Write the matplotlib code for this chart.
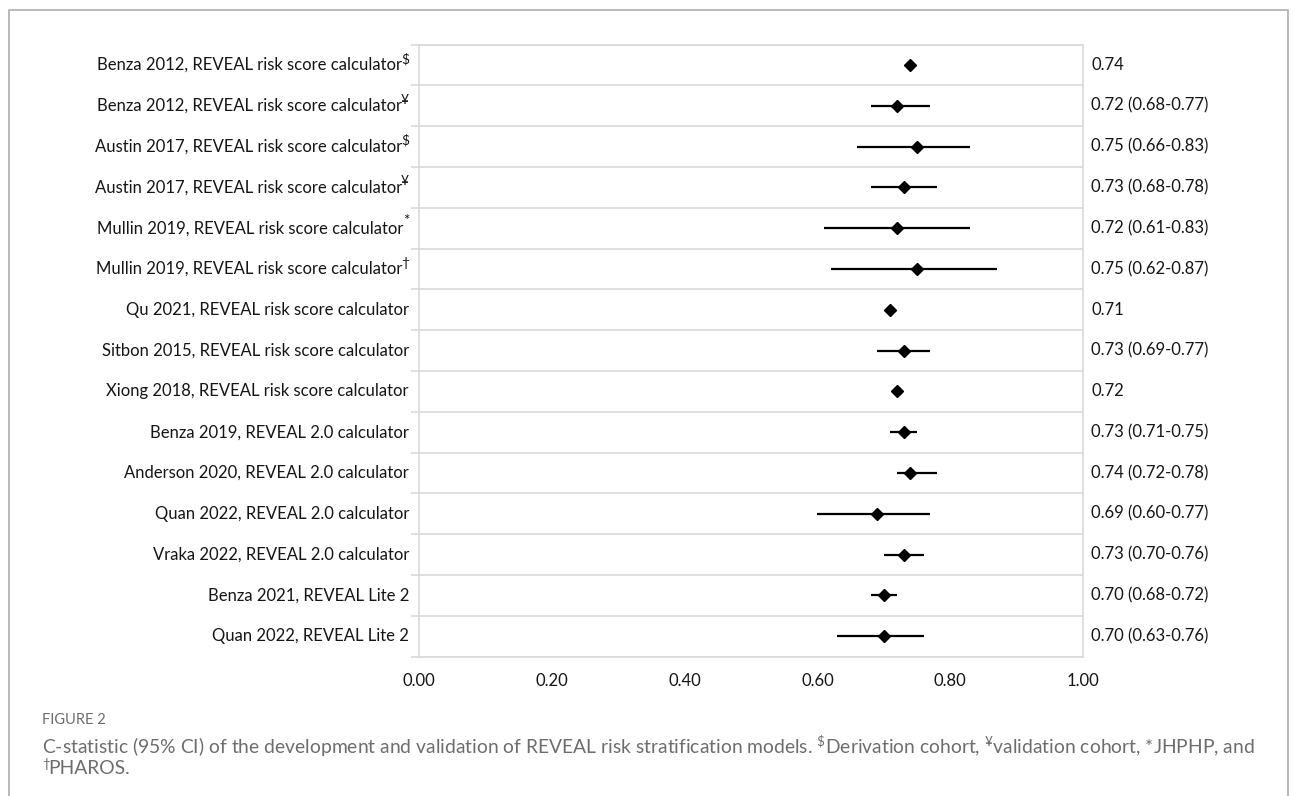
import matplotlib
matplotlib.use("Agg")
import matplotlib.pyplot as plt
from matplotlib.lines import Line2D
from matplotlib import transforms

plt.rcParams['font.family'] = ['Lato', 'DejaVu Sans']
plt.rcParams['mathtext.fontset'] = 'custom'
plt.rcParams['mathtext.rm'] = 'Lato'
plt.rcParams['mathtext.it'] = 'Lato:italic'
plt.rcParams['mathtext.bf'] = 'Lato:bold'

studies = [
    "Benza 2012, REVEAL risk score calculator",
    "Benza 2012, REVEAL risk score calculator",
    "Austin 2017, REVEAL risk score calculator",
    "Austin 2017, REVEAL risk score calculator",
    "Mullin 2019, REVEAL risk score calculator",
    "Mullin 2019, REVEAL risk score calculator",
    "Qu 2021, REVEAL risk score calculator",
    "Sitbon 2015, REVEAL risk score calculator",
    "Xiong 2018, REVEAL risk score calculator",
    "Benza 2019, REVEAL 2.0 calculator",
    "Anderson 2020, REVEAL 2.0 calculator",
    "Quan 2022, REVEAL 2.0 calculator",
    "Vraka 2022, REVEAL 2.0 calculator",
    "Benza 2021, REVEAL Lite 2",
    "Quan 2022, REVEAL Lite 2",
]
cohort_marks = ["$", "¥", "$", "¥", "*", "†", "", "", "", "", "", "", "", "", ""]
cstat = [0.74, 0.72, 0.75, 0.73, 0.72, 0.75, 0.71, 0.73, 0.72, 0.73, 0.74, 0.69, 0.73, 0.70, 0.70]
ci_low = [None, 0.68, 0.66, 0.68, 0.61, 0.62, None, 0.69, None, 0.71, 0.72, 0.60, 0.70, 0.68, 0.63]
ci_high = [None, 0.77, 0.83, 0.78, 0.83, 0.87, None, 0.77, None, 0.75, 0.78, 0.77, 0.76, 0.72, 0.76]
xticks = [0.0, 0.2, 0.4, 0.6, 0.8, 1.0]

W, H = 1295, 796
fig = plt.figure(figsize=(W / 100, H / 100), dpi=100)
ax_left, ax_right = 419, 1083
ax = fig.add_axes([ax_left / W, 1 - 656.6 / H, (ax_right - ax_left) / W, (656.6 - 44.6) / H])

n = len(studies)
ys = list(range(n))
grid_c = '#d9d9d9'
txt_c = '#151515'

for y, c, lo, hi in zip(ys, cstat, ci_low, ci_high):
    if lo is not None:
        ax.plot([lo, hi], [y, y], color='black', lw=1.6, solid_capstyle='butt', zorder=3)
    ax.plot([c], [y], marker='D', color='black', markersize=6.5, zorder=4)

ax.set_xlim(0, 1)
ax.set_ylim(n - 0.5, -0.5)
ax.set_yticks(ys)
ax.set_yticklabels([])
ax.set_yticks([i - 0.5 for i in range(n + 1)], minor=True)
ax.tick_params(axis='y', which='major', length=0)
ax.tick_params(axis='y', which='minor', length=6, color=grid_c, width=1.2)
ax.grid(axis='y', which='minor', color=grid_c, lw=1.2)
ax.set_xticks(xticks)
ax.set_xticklabels([f"{t:.2f}" for t in xticks], fontsize=12, color=txt_c)
ax.tick_params(axis='x', length=0, pad=12)
for s in ax.spines.values():
    s.set_color(grid_c)
    s.set_linewidth(1.2)

# row labels (right-aligned, with raised cohort marks)
lab_trans = transforms.blended_transform_factory(fig.transFigure, ax.transData)
xr = 409 / W
fig.canvas.draw()
renderer = fig.canvas.get_renderer()
for y, lab, mark in zip(ys, studies, cohort_marks):
    if mark:
        raise_px = 7 if mark == "*" else 6
        sup = ax.text(xr, y, mark, transform=transforms.offset_copy(lab_trans, fig=fig, x=0, y=raise_px, units='dots'),
                      ha='right', va='center', fontsize=10 if mark != "*" else 11, color=txt_c, clip_on=False)
        wsup = sup.get_window_extent(renderer).width
        ax.text(xr, y, lab, transform=transforms.offset_copy(lab_trans, fig=fig, x=-wsup + 1, y=0, units='dots'),
                ha='right', va='center', fontsize=12, color=txt_c, clip_on=False)
    else:
        ax.text(xr, y, lab, transform=transforms.offset_copy(lab_trans, fig=fig, x=0, y=0, units='dots'),
                ha='right', va='center', fontsize=12, color=txt_c, clip_on=False)

for y, c, lo, hi in zip(ys, cstat, ci_low, ci_high):
    txt = f"{c:.2f}" if lo is None else f"{c:.2f} ({lo:.2f}-{hi:.2f})"
    ax.text(1091 / W, y, txt, transform=lab_trans,
            ha='left', va='center', fontsize=12, color=txt_c, clip_on=False)

# outer frame
x0, x1, yt = 9 / W, 1288 / W, 1 - 10 / H
fig.add_artist(Line2D([x0, x0, x1, x1], [-0.02, yt, yt, -0.02], transform=fig.transFigure,
                      color='#b3b3b3', lw=1.3))

cap_c = '#6d6d6d'
fig.text(42 / W, 1 - 720 / H, "FIGURE 2", fontsize=10.5, color=cap_c, va='center', ha='left')
fig.text(42 / W, 1 - 746 / H,
         r"C-statistic (95% CI) of the development and validation of REVEAL risk stratification models. "
         r"$^{\$}$Derivation cohort, $^{¥}$validation cohort, *JHPHP, and",
         fontsize=13.9, color=cap_c, va='center', ha='left')
fig.text(42 / W, 1 - 763.5 / H, "†", fontsize=9.5, color=cap_c, va='center', ha='left')
fig.text(48 / W, 1 - 768 / H, "PHAROS.", fontsize=13.9, color=cap_c, va='center', ha='left')

fig.savefig("out.png", dpi=100, facecolor='white')
